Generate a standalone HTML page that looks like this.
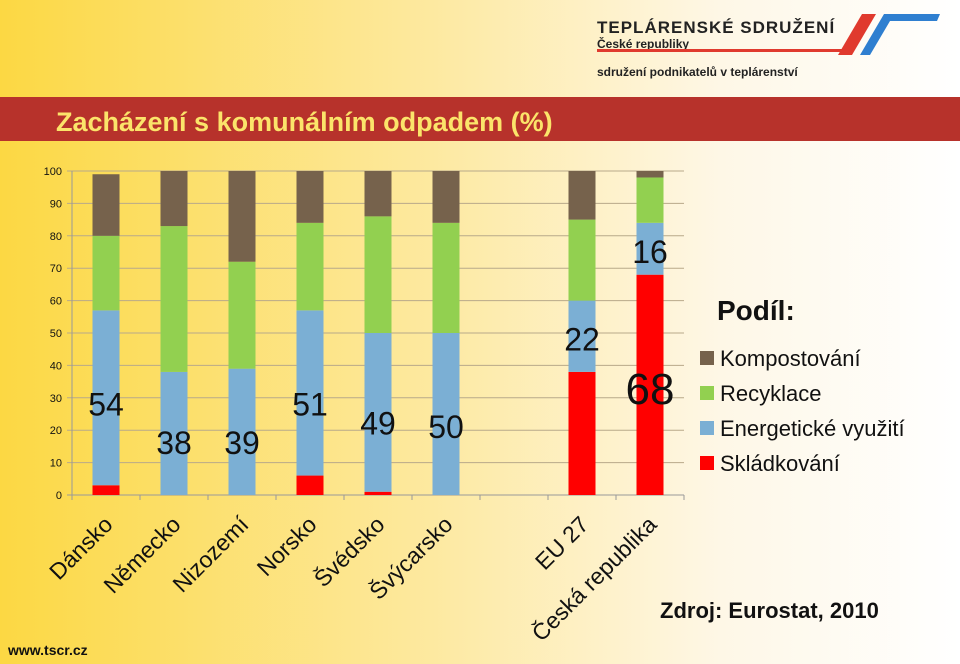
<!DOCTYPE html>
<html><head><meta charset="utf-8"><style>
html,body{margin:0;padding:0}
body{width:960px;height:664px;overflow:hidden;font-family:"Liberation Sans",Arial,sans-serif}
svg{display:block;font-family:"Liberation Sans",Arial,sans-serif}
</style></head><body>
<svg id="c" width="960" height="664" xmlns="http://www.w3.org/2000/svg" font-family="Liberation Sans, Arial, sans-serif">
<defs>
<linearGradient id="bg" x1="0" y1="0" x2="1" y2="0">
<stop offset="0" stop-color="#fcd843"/><stop offset="0.45" stop-color="#fde9a0"/><stop offset="0.75" stop-color="#fef7e6"/><stop offset="1" stop-color="#ffffff"/>
</linearGradient>
</defs>
<rect width="960" height="664" fill="url(#bg)"/>
<g>
<text x="597" y="33" font-size="17" font-weight="bold" fill="#222" letter-spacing="1">TEPLÁRENSKÉ SDRUŽENÍ</text>
<text x="597" y="48" font-size="12" font-weight="bold" fill="#222">České republiky</text>
<polygon points="597,52 840,52 843,49 597,49" fill="#e03a2e"/>
<polygon points="838,55 862,14 876,14 852,55" fill="#e03a2e"/>
<polygon points="860,55 884,14 940,14 937,21 890,21 870,55" fill="#2f7fd0"/>
<text x="597" y="76" font-size="12" font-weight="bold" fill="#222">sdružení podnikatelů v teplárenství</text>
</g>
<rect x="0" y="97" width="960" height="44" fill="#b7322b"/>
<text x="56" y="131" font-size="27" font-weight="bold" fill="#fbe46a">Zacházení s komunálním odpadem (%)</text>
<g id="plot"></g>
<g>
<text x="717" y="320" font-size="28" font-weight="bold" fill="#111">Podíl:</text>
<rect x="700" y="351" width="14" height="14" fill="#76624c"/>
<text x="720" y="366" font-size="22" fill="#111">Kompostování</text>
<rect x="700" y="386" width="14" height="14" fill="#92d050"/>
<text x="720" y="401" font-size="22" fill="#111">Recyklace</text>
<rect x="700" y="421" width="14" height="14" fill="#7bafd4"/>
<text x="720" y="436" font-size="22" fill="#111">Energetické využití</text>
<rect x="700" y="456" width="14" height="14" fill="#ff0000"/>
<text x="720" y="471" font-size="22" fill="#111">Skládkování</text>
</g>
<text x="660" y="618" font-size="22" font-weight="bold" fill="#111">Zdroj: Eurostat, 2010</text>
<text x="8" y="655" font-size="14" font-weight="bold" fill="#111">www.tscr.cz</text>
</svg>
<script>
const categories=["Dánsko","Německo","Nizozemí","Norsko","Švédsko","Švýcarsko","","EU 27","Česká republika"];
const landfill=[3,0,0,6,1,0,null,38,68];
const energy=[54,38,39,51,49,50,null,22,16];
const recycling=[23,45,33,27,36,34,null,25,14];
const compost=[19,17,28,16,14,16,null,15,2];
const yTicks=[0,10,20,30,40,50,60,70,80,90,100];
const NS="http://www.w3.org/2000/svg";
const plot=document.getElementById('plot');
const x0=72,slot=68,y0=495,y1=171;
const ys=v=>y0-(v/100)*(y0-y1);
const xc=i=>x0+slot*(i+0.5);
function mk(tag,attrs){const e=document.createElementNS(NS,tag);for(const k in attrs)e.setAttribute(k,attrs[k]);plot.appendChild(e);return e;}
yTicks.forEach(t=>{
 const g=mk('line',{x1:x0-5,x2:x0+slot*categories.length,y1:ys(t),y2:ys(t),stroke:t===0?'#999':'#b8a98a','stroke-width':1});
 
 
 const l=mk('text',{x:x0-10,y:ys(t)+4,'font-size':11,'text-anchor':'end',fill:'#111'});
 l.textContent=t;
 
 
});
const ax=mk('line',{x1:x0,x2:x0,y1:y1,y2:y0+5,stroke:'#999'});


for(let i=0;i<=categories.length;i++){
 const t=mk('line',{x1:x0+slot*i,x2:x0+slot*i,y1:y0,y2:y0+5,stroke:'#999'});
 
 
}
const series=[[landfill,'#ff0000','landfill'],[energy,'#7bafd4','energy'],[recycling,'#92d050','recycling'],[compost,'#76624c','compost']];
const bw=27;
categories.forEach((c,i)=>{
 if(landfill[i]!==null){
  let base=0;
  series.forEach(([arr,col,nm])=>{
   const v=arr[i];
   if(v>0){
    const r=mk('rect',{x:xc(i)-bw/2,y:ys(base+v),width:bw,height:ys(base)-ys(base+v),fill:col});
    
    
   }
   base+=v;
  });
 }
 if(c){
  const tx=xc(i)+8,ty=526;
  const t=mk('text',{x:tx,y:ty,'font-size':23,'text-anchor':'end',fill:'#111',transform:`rotate(-45 ${tx} ${ty})`});
  t.textContent=c;
  
  
 }
});
const labelPos=[[0,28],[1,16],[2,16],[3,28],[4,22],[5,21],[7,48],[8,75]];
labelPos.forEach(([i,vy])=>{
 const v=energy[i];
 const t=mk('text',{x:xc(i),y:ys(vy)+11,'font-size':32,'text-anchor':'middle',fill:'#111'});
 t.textContent=v;
 
 
});
const t68=mk('text',{x:xc(8),y:ys(33)+16,'font-size':44,'text-anchor':'middle',fill:'#111'});
t68.textContent=landfill[8];


</script>
</body></html>
